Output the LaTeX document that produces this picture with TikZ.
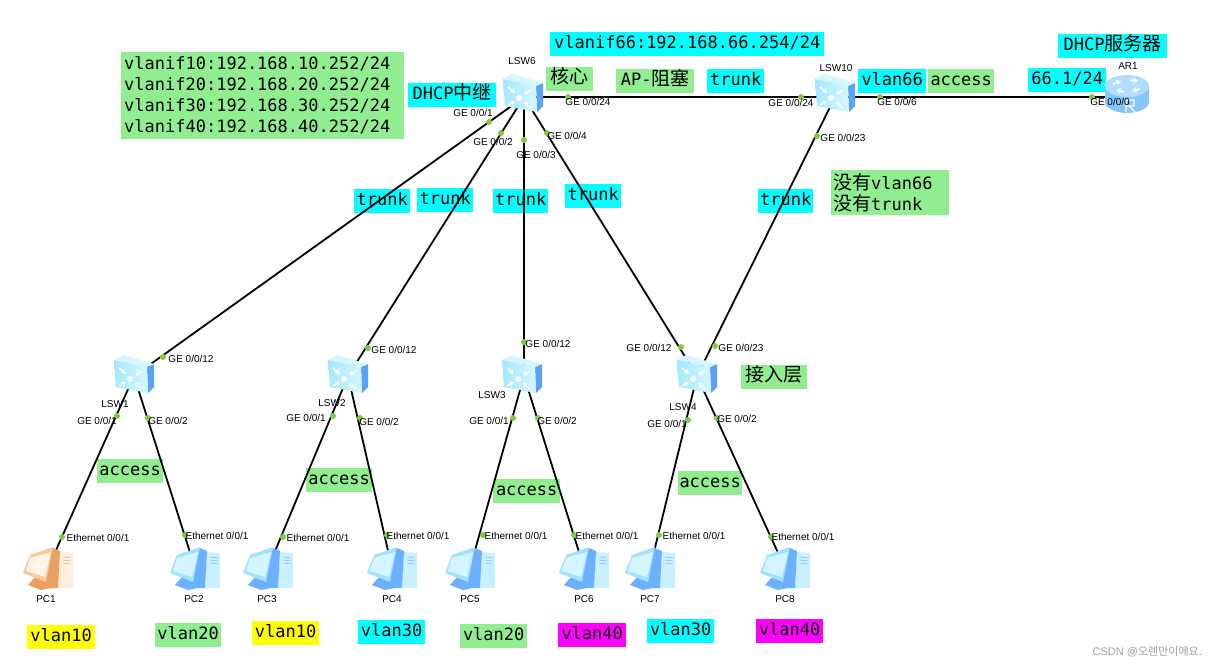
\documentclass[tikz,border=0pt]{standalone}
\usepackage{fontspec}
\setmainfont{Liberation Sans}
\setmonofont{DejaVu Sans Mono}
\newfontfamily\cjk{Noto Sans CJK SC}
\newfontfamily\krfont{Noto Sans CJK KR}
\usetikzlibrary{arrows.meta, positioning}
\definecolor{tagcyan}{HTML}{00FFFF}
\definecolor{taggreen}{HTML}{90EE90}
\definecolor{tagyellow}{HTML}{FFFF00}
\definecolor{tagpink}{HTML}{FF00FF}
\definecolor{portgreen}{HTML}{7FCB3A}
\definecolor{pcscreen}{HTML}{D4F4FF}
\definecolor{pcface}{HTML}{A0E2FF}
\definecolor{pcdark}{HTML}{6CB0FF}
\definecolor{pcbox}{HTML}{C8F0FF}
\definecolor{swfront}{HTML}{A4E8FF}
\definecolor{swpale}{HTML}{D4F6FF}
\definecolor{swside}{HTML}{5AA2F8}
\definecolor{rttop}{HTML}{B4DCFF}
\definecolor{rtside}{HTML}{86C6FF}
\newcommand{\cn}[1]{{\cjk\fontsize{19}{21}\selectfont #1}}
\tikzset{
  link/.style={line width=1.8pt, black},
  device/.style={circle, inner sep=0pt, minimum size=1pt},
  portdot/.style={circle, fill=portgreen, inner sep=0pt, minimum size=6pt},
  portlab/.style={font=\fontsize{10}{11}\selectfont, inner sep=0pt},
  tag/.style={anchor=north west, inner sep=0pt, minimum height=24pt,
    font=\ttfamily\fontsize{17}{21}\selectfont},
  tagline/.style={tag, text height=13pt, text depth=4pt},
  iconarrow/.style={white, line width=1.5pt, -{Stealth[length=5pt,width=6pt]}},
  swicon/.pic={
    \fill[swside] (13,-9) -- (20,-12) -- (20,11) -- (14,17) -- cycle;
    \fill[swpale] (-20,-16) -- (-11,-21) -- (20,-12) -- (13,-9) -- cycle;
    \shade[left color=swfront, right color=swpale] (-20,-16) -- (13,-9) -- (14,17) -- (-18,11) -- cycle;
    \fill[white] (-4,3) circle (3);
    \draw[iconarrow] (-15,-8) -- (-8,-2);
    \draw[iconarrow] (8,-5) -- (1,-1);
    \draw[iconarrow] (-15,10) -- (-8,6);
    \draw[iconarrow] (8,13) -- (1,7);
  },
  pcicon/.pic={
    \fill[pcbox] (12,-16) -- (25,-15) -- (25,20) -- (10,20) -- cycle;
    \foreach \s in {-11,-8,-5} {\draw[pcdark, thin] (15,\s) -- (23,\s+1);}
    \fill[pcdark] (5,-20) -- (12,-17) -- (10,20) -- (-6,20) -- (-8,10) -- cycle;
    \fill[pcdark] (-20,17) -- (-12,8) -- (-2,8) -- (7,19) -- (-7,22) -- cycle;
    \fill[pcface] (-18,-13) -- (5,-21) -- (-2,14) -- (-25,5) -- cycle;
    \fill[pcscreen] (-18,-10) -- (3,-16) -- (-3,9) -- (-22,3) -- cycle;
  },
  routericon/.pic={
    \fill[rtside] (-22,-8) -- (-22,8) arc [start angle=180, end angle=0, x radius=22, y radius=11] -- (22,-8) -- cycle;
    \fill[rttop] (0,-8) ellipse [x radius=22, y radius=11];
    \draw[iconarrow] (-14,-10) -- (-6,-13);
    \draw[iconarrow] (13,-5) -- (5,-3);
    \draw[iconarrow] (-3,-2) -- (-11,-4);
    \draw[iconarrow] (3,-14) -- (11,-13);
    \draw[white, line width=1.4pt] (-1,18) -- (-1,6) -- (7,6) -- (7,12) -- (-1,12) (2,12) -- (8,18);
  }
}
\begin{document}
\begin{tikzpicture}[x=1pt, y=-1pt]
  \useasboundingbox (0,0) rectangle (1216,667);

  % coloured tags
  \foreach \x/\y/\w/\c/\t [count=\i] in {
    550/32/274/tagcyan/{vlanif66:192.168.66.254/24},
    408/83/88/tagcyan/{DHCP\cn{中继}},
    546/67/47/taggreen/{\cn{核心}},
    616/69/78/taggreen/{AP-\cn{阻塞}},
    707/69/57/tagcyan/{trunk},
    858/69/68/tagcyan/{vlan66},
    928/69/66/taggreen/{access},
    1058/34/109/tagcyan/{DHCP\cn{服务器}},
    1028/68/78/tagcyan/{66.1/24},
    354/189/56/tagcyan/{trunk},
    417/188/56/tagcyan/{trunk},
    493/189/55/tagcyan/{trunk},
    565/184/56/tagcyan/{trunk},
    758/189/55/tagcyan/{trunk},
    741/365/66/taggreen/{\cn{接入层}},
    97/459/66/taggreen/{access},
    306/468/66/taggreen/{access},
    493/479/67/taggreen/{access},
    678/471/64/taggreen/{access},
    27/625/68/tagyellow/{vlan10},
    155/623/66/taggreen/{vlan20},
    252/621/67/tagyellow/{vlan10},
    358/620/67/tagcyan/{vlan30},
    460/624/67/taggreen/{vlan20},
    558/623/68/tagpink/{vlan40},
    647/619/67/tagcyan/{vlan30},
    756/619/67/tagpink/{vlan40}} {
    \node[tagline, fill=\c, minimum width=\w pt] (tag\i) at (\x,\y) {\t};
  }
  \node[tag, fill=taggreen, minimum width=283pt, minimum height=87pt, align=left, text width=277pt,
    inner xsep=3pt] (ifblock) at (121,52) {vlanif10:192.168.10.252/24\\vlanif20:192.168.20.252/24\\vlanif30:192.168.30.252/24\\vlanif40:192.168.40.252/24};
  \node[tag, fill=taggreen, minimum width=118pt, minimum height=45pt, align=left, text width=114pt,
    inner xsep=2pt] (notrunk) at (831,170) {\cn{没有}vlan66\\\cn{没有}trunk};

  % devices
  \foreach \n/\x/\y in {
    LSW6/524/97, LSW10/835/97, AR1/1127/97,
    LSW1/134/376, LSW2/348/376, LSW3/524/376, LSW4/697/376,
    PC1/48/568, PC2/195/568, PC3/268/568, PC4/392/568,
    PC5/470/568, PC6/584/568, PC7/650/568, PC8/785/568} {
    \node[device] (\n) at (\x,\y) {};
  }

  % links
  \foreach \a/\b in {
    LSW6/LSW10, LSW10/AR1, LSW6/LSW1, LSW6/LSW2, LSW6/LSW3, LSW6/LSW4, LSW10/LSW4,
    LSW1/PC1, LSW1/PC2, LSW2/PC3, LSW2/PC4, LSW3/PC5, LSW3/PC6, LSW4/PC7, LSW4/PC8} {
    \draw[link] (\a.center) -- (\b.center);
  }

  % icons
  \foreach \x/\y in {523/95, 835/95, 134/376, 348/376, 522/376, 697/376} {
    \pic at (\x,\y) {swicon};
  }
  \pic at (1127,94) {routericon};
  \foreach \x in {195, 268, 392, 470, 584, 650, 785} {
    \pic at (\x,568) {pcicon};
  }
  \begin{scope}
    \definecolor{pcscreen}{HTML}{FFF4E8}
    \definecolor{pcface}{HTML}{F8C898}
    \definecolor{pcdark}{HTML}{E8A060}
    \definecolor{pcbox}{HTML}{FFEEDD}
    \pic at (48,568) {pcicon};
  \end{scope}

  % port dots
  \foreach \x/\y in {
    489/122, 501/133, 524/140, 547/133, 568/97, 801/97, 880/97, 817/136, 1092/97,
    163/357, 117/416, 148/418, 62/537, 185/535,
    368/348, 333/416, 360/418, 283/537, 387/535,
    524/342, 513/418, 538/418, 483/535, 574/535,
    681/347, 715/346, 688/420, 717/418, 659/535, 771/537} {
    \node[portdot] at (\x,\y) {};
  }

  % port and device names
  \foreach \x/\y/\t [count=\i] in {
    473/113/{GE 0/0/1}, 493/142/{GE 0/0/2}, 536/155/{GE 0/0/3}, 567/136/{GE 0/0/4}, 588/102/{GE 0/0/24},
    791/103/{GE 0/0/24}, 897/102/{GE 0/0/6}, 843/138/{GE 0/0/23}, 1110/102/{GE 0/0/0},
    191/359/{GE 0/0/12}, 97/421/{GE 0/0/1}, 168/421/{GE 0/0/2},
    394/350/{GE 0/0/12}, 306/418/{GE 0/0/1}, 379/422/{GE 0/0/2},
    548/344/{GE 0/0/12}, 489/421/{GE 0/0/1}, 557/421/{GE 0/0/2},
    649/348/{GE 0/0/12}, 741/348/{GE 0/0/23}, 667/424/{GE 0/0/1}, 737/419/{GE 0/0/2},
    98/538/{Ethernet 0/0/1}, 217/536/{Ethernet 0/0/1}, 318/538/{Ethernet 0/0/1}, 418/536/{Ethernet 0/0/1},
    516/536/{Ethernet 0/0/1}, 607/536/{Ethernet 0/0/1}, 694/536/{Ethernet 0/0/1}, 803/537/{Ethernet 0/0/1}} {
    \node[portlab] (port\i) at (\x,\y) {\t};
  }
  \foreach \x/\y/\t in {
    522/61/LSW6, 836/68/LSW10, 1128/66/AR1, 115/404/LSW1, 332/403/LSW2, 492/395/LSW3, 683/407/LSW4,
    46/599/PC1, 194/599/PC2, 267/599/PC3, 392/599/PC4, 470/599/PC5, 584/599/PC6, 650/599/PC7, 785/599/PC8} {
    \node[portlab] (name\t) at (\x,\y) {\t};
  }

  \node[anchor=east, inner sep=0pt, text=gray!75, font=\fontsize{11}{12}\selectfont] (mark) at (1202,652) {CSDN @{\krfont 오렌만이에요.}};
\end{tikzpicture}
\end{document}
